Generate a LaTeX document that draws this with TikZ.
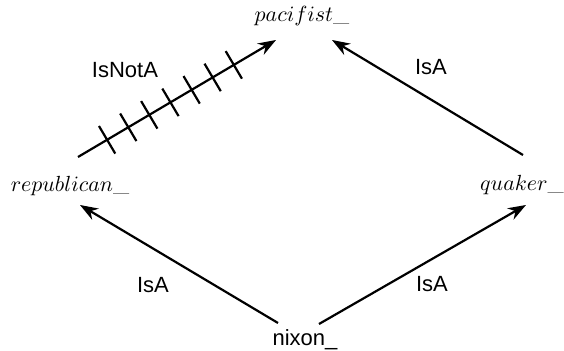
\documentclass[tikz,border=0pt]{standalone}
\usepackage{fontspec}
\setsansfont{Liberation Sans}
\usetikzlibrary{arrows.meta,calc}

\begin{document}
\begin{tikzpicture}[x=0.5pt,y=-0.5pt,
        font=\fontsize{11}{13}\selectfont,
        term/.style={inner sep=0pt,anchor=base},
        rel/.style={inner sep=0pt,anchor=base,font=\fontsize{11}{13}\selectfont\sffamily},
        link/.style={line width=1.1pt,-{Stealth[length=9pt,width=6.5pt]}},
        notmark/.style={line width=1.1pt}]
        \useasboundingbox (0,0) rectangle (564,351);

        % the four terms
        \node[term] (pacifist) at (302,22) {$pacifist\_$};
        \node[term] (republican) at (70,192) {$republican\_$};
        \node[term] (quaker) at (522,191) {$quaker\_$};
        \node[term,font=\fontsize{11}{13}\selectfont\sffamily] (nixon) at (305,346) {nixon\_};

        % arrow ends
        \coordinate (rep-out) at (78,157);
        \coordinate (pac-in1) at (276,40);
        \coordinate (qua-out) at (523,155);
        \coordinate (pac-in2) at (332,40);
        \coordinate (nix-out1) at (278,323);
        \coordinate (rep-in) at (80,205);
        \coordinate (nix-out2) at (319,324);
        \coordinate (qua-in) at (526,205);

        \draw[link] (rep-out) -- (pac-in1);
        \draw[link] (qua-out) -- (pac-in2);
        \draw[link] (nix-out1) -- (rep-in);
        \draw[link] (nix-out2) -- (qua-in);

        % strokes across the negated link
        \foreach \p in {0.147,0.254,0.360,0.467,0.574,0.680,0.787}
            \draw[notmark] ($(rep-out)!\p!(pac-in1)!8pt!90:(pac-in1)$)
                        -- ($(rep-out)!\p!(pac-in1)!8pt!-90:(pac-in1)$);

        % link labels
        \node[rel] (isnota) at (125,78) {IsNotA};
        \node[rel] (isa1) at (431,75) {IsA};
        \node[rel] (isa2) at (153,293) {IsA};
        \node[rel] (isa3) at (432,292) {IsA};
\end{tikzpicture}
\end{document}
